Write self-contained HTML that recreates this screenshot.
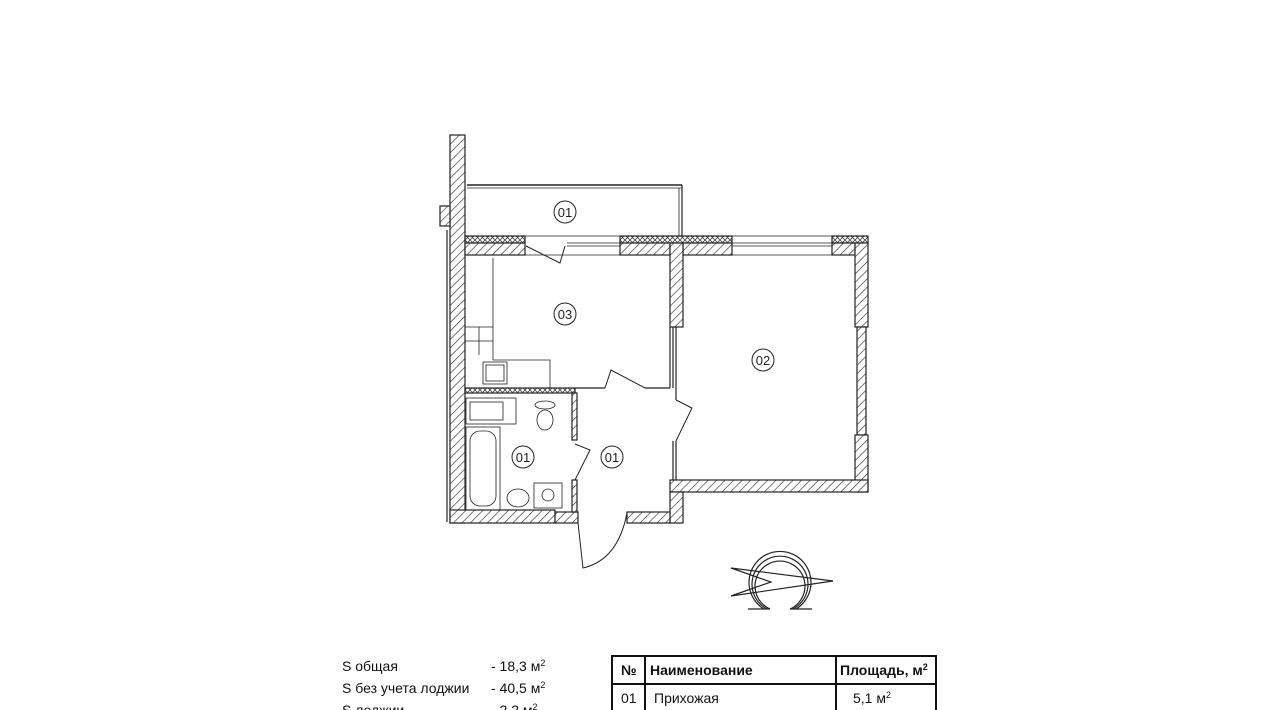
<!DOCTYPE html>
<html><head><meta charset="utf-8"><style>
body{margin:0;background:#fff;width:1280px;height:710px;overflow:hidden;font-family:"Liberation Sans",sans-serif}
</style></head><body>
<svg width="1280" height="710" xmlns="http://www.w3.org/2000/svg" style="position:absolute;left:0;top:0">
<defs>
<pattern id="h" width="6" height="6" patternUnits="userSpaceOnUse" patternTransform="rotate(45)">
<rect width="6" height="6" fill="#fff"/><line x1="0" y1="0" x2="0" y2="6" stroke="#333" stroke-width="1.3"/></pattern>
<pattern id="x" width="5" height="5" patternUnits="userSpaceOnUse">
<rect width="5" height="5" fill="#fff"/><path d="M0 0L5 5M5 0L0 5" stroke="#444" stroke-width="0.8"/></pattern>
</defs>
<g stroke="#222" stroke-width="1.2">
<!-- left wall -->
<rect x="450" y="135" width="15" height="388" fill="url(#h)"/>
<line x1="447" y1="230" x2="447" y2="522"/>
<rect x="440" y="206" width="10" height="20" fill="url(#h)"/>
<!-- loggia -->
<line x1="467" y1="185" x2="682" y2="185" stroke-width="1.5"/>
<line x1="467" y1="188" x2="682" y2="188" stroke-width="0.8"/>
<line x1="682" y1="185" x2="682" y2="236"/>
<line x1="679" y1="188" x2="679" y2="236" stroke-width="0.8"/>
<!-- top wall -->
<rect x="465" y="236" width="60" height="7" fill="url(#x)"/>
<rect x="465" y="243" width="60" height="12" fill="url(#h)"/>
<rect x="620" y="236" width="112" height="7" fill="url(#x)"/>
<rect x="620" y="243" width="50" height="12" fill="url(#h)"/>
<rect x="683" y="243" width="49" height="12" fill="url(#h)"/>
<rect x="832" y="236" width="36" height="7" fill="url(#x)"/>
<rect x="832" y="243" width="23" height="12" fill="url(#h)"/>
<line x1="525" y1="236" x2="620" y2="236" stroke-width="0.8"/>
<line x1="567" y1="243" x2="620" y2="243" stroke-width="0.8"/>
<line x1="567" y1="246" x2="620" y2="246" stroke-width="0.8"/>
<line x1="525" y1="255" x2="620" y2="255" stroke-width="0.8"/>
<line x1="732" y1="236" x2="832" y2="236" stroke-width="0.8"/>
<line x1="732" y1="243" x2="832" y2="243" stroke-width="0.8"/>
<line x1="732" y1="246" x2="832" y2="246" stroke-width="0.8"/>
<line x1="732" y1="255" x2="832" y2="255" stroke-width="0.8"/>
<path d="M526 246 L560 263 L565 246" fill="none" stroke-width="1"/>
<!-- partition kitchen/room -->
<rect x="670" y="243" width="13" height="84" fill="url(#h)"/>
<line x1="670" y1="327" x2="670" y2="388"/><line x1="673" y1="327" x2="673" y2="388"/>
<line x1="676" y1="327" x2="676" y2="400"/>
<line x1="673" y1="441" x2="673" y2="480"/><line x1="676" y1="441" x2="676" y2="480"/>
<!-- right wall -->
<rect x="855" y="243" width="13" height="84" fill="url(#h)"/>
<rect x="857" y="327" width="9" height="108" fill="url(#h)"/>
<rect x="855" y="435" width="13" height="57" fill="url(#h)"/>
<!-- bottom room02 -->
<rect x="670" y="480" width="198" height="12" fill="url(#h)"/>
<rect x="670" y="492" width="13" height="31" fill="url(#h)"/>
<!-- bottom wall -->
<rect x="450" y="510" width="105" height="13" fill="url(#h)"/>
<rect x="555" y="512" width="23" height="11" fill="url(#h)"/>
<rect x="627" y="512" width="43" height="11" fill="url(#h)"/>
<!-- entrance door -->
<path d="M578 523 L583 568 Q618 560 627 513" fill="none" stroke-width="1"/>
<!-- kitchen/bath partition -->
<rect x="465" y="388" width="110" height="5" fill="url(#x)"/>
<rect x="572" y="393" width="5" height="47" fill="url(#h)"/>
<rect x="572" y="480" width="5" height="32" fill="url(#h)"/>
<path d="M575 444 L590 450 L575 480" fill="none" stroke-width="1"/>
<line x1="575" y1="388" x2="605" y2="388"/><line x1="645" y1="388" x2="670" y2="388"/>
<path d="M605 388 L611 370 L645 388" fill="none" stroke-width="1"/>
<path d="M676 400 L692 408 L676 441" fill="none" stroke-width="1"/>
<!-- kitchen furniture -->
<g stroke-width="0.8" fill="none">
<line x1="493" y1="258" x2="493" y2="360"/>
<path d="M493 360 L550 360 L550 388"/>
<line x1="465" y1="327" x2="493" y2="327"/><line x1="479" y1="327" x2="479" y2="355"/><line x1="465" y1="341" x2="493" y2="341"/>
<rect x="483" y="362" width="24" height="22"/><rect x="486" y="365" width="18" height="16"/>
<!-- bath -->
<rect x="466" y="398" width="50" height="26"/><rect x="470" y="402" width="33" height="18"/>
<rect x="466" y="427" width="34" height="83"/><rect x="470" y="431" width="26" height="75" rx="10"/>
<ellipse cx="545" cy="405" rx="10" ry="4"/><ellipse cx="545" cy="420" rx="8" ry="10"/>
<ellipse cx="518" cy="498" rx="11" ry="9"/>
<rect x="534" y="483" width="28" height="25"/><circle cx="548" cy="495" r="6"/>
</g>
</g>
<g font-size="13" text-anchor="middle" fill="#222" stroke="#222" stroke-width="1">
<circle cx="565" cy="212" r="11" fill="none"/><text x="565" y="217" stroke="none">01</text>
<circle cx="565" cy="314" r="11" fill="none"/><text x="565" y="319" stroke="none">03</text>
<circle cx="763" cy="360" r="11" fill="none"/><text x="763" y="365" stroke="none">02</text>
<circle cx="523" cy="457" r="11" fill="none"/><text x="523" y="462" stroke="none">01</text>
<circle cx="612" cy="457" r="11" fill="none"/><text x="612" y="462" stroke="none">01</text>
</g>
<!-- compass -->
<g fill="none" stroke="#222" stroke-width="1.2">
<path d="M764 609 A31 31 0 1 1 796 609"/>
<path d="M767 609 A28 28 0 1 1 793 609"/>
<path d="M770 609 A25 25 0 1 1 790 609"/>
<line x1="748" y1="609" x2="770" y2="609"/><line x1="790" y1="609" x2="812" y2="609"/>
<path d="M731 568 L833 581 L731 596 L771 582 Z"/>
</g>
<g font-size="14" fill="#111">
<text x="342" y="671">S общая</text><text x="491" y="671">- 18,3 м<tspan font-size="9" dy="-5">2</tspan></text>
<text x="342" y="693">S без учета лоджии</text><text x="491" y="693">- 40,5 м<tspan font-size="9" dy="-5">2</tspan></text>
<text x="342" y="715">S лоджии</text><text x="491" y="715">- 2,2 м<tspan font-size="9" dy="-5">2</tspan></text>
</g>
<g stroke="#111" stroke-width="2" fill="none">
<rect x="612" y="656" width="324" height="60"/>
<line x1="612" y1="684" x2="936" y2="684"/>
<line x1="645" y1="656" x2="645" y2="710"/><line x1="836" y1="656" x2="836" y2="710"/>
</g>
<g font-size="14" fill="#111">
<text x="621" y="675" font-weight="bold">№</text>
<text x="650" y="675" font-weight="bold">Наименование</text>
<text x="840" y="675" font-weight="bold">Площадь, м<tspan font-size="9" dy="-5">2</tspan></text>
<text x="621" y="703">01</text><text x="654" y="703">Прихожая</text>
<text x="853" y="703">5,1 м<tspan font-size="9" dy="-5">2</tspan></text>
</g>
</svg>
</body></html>
